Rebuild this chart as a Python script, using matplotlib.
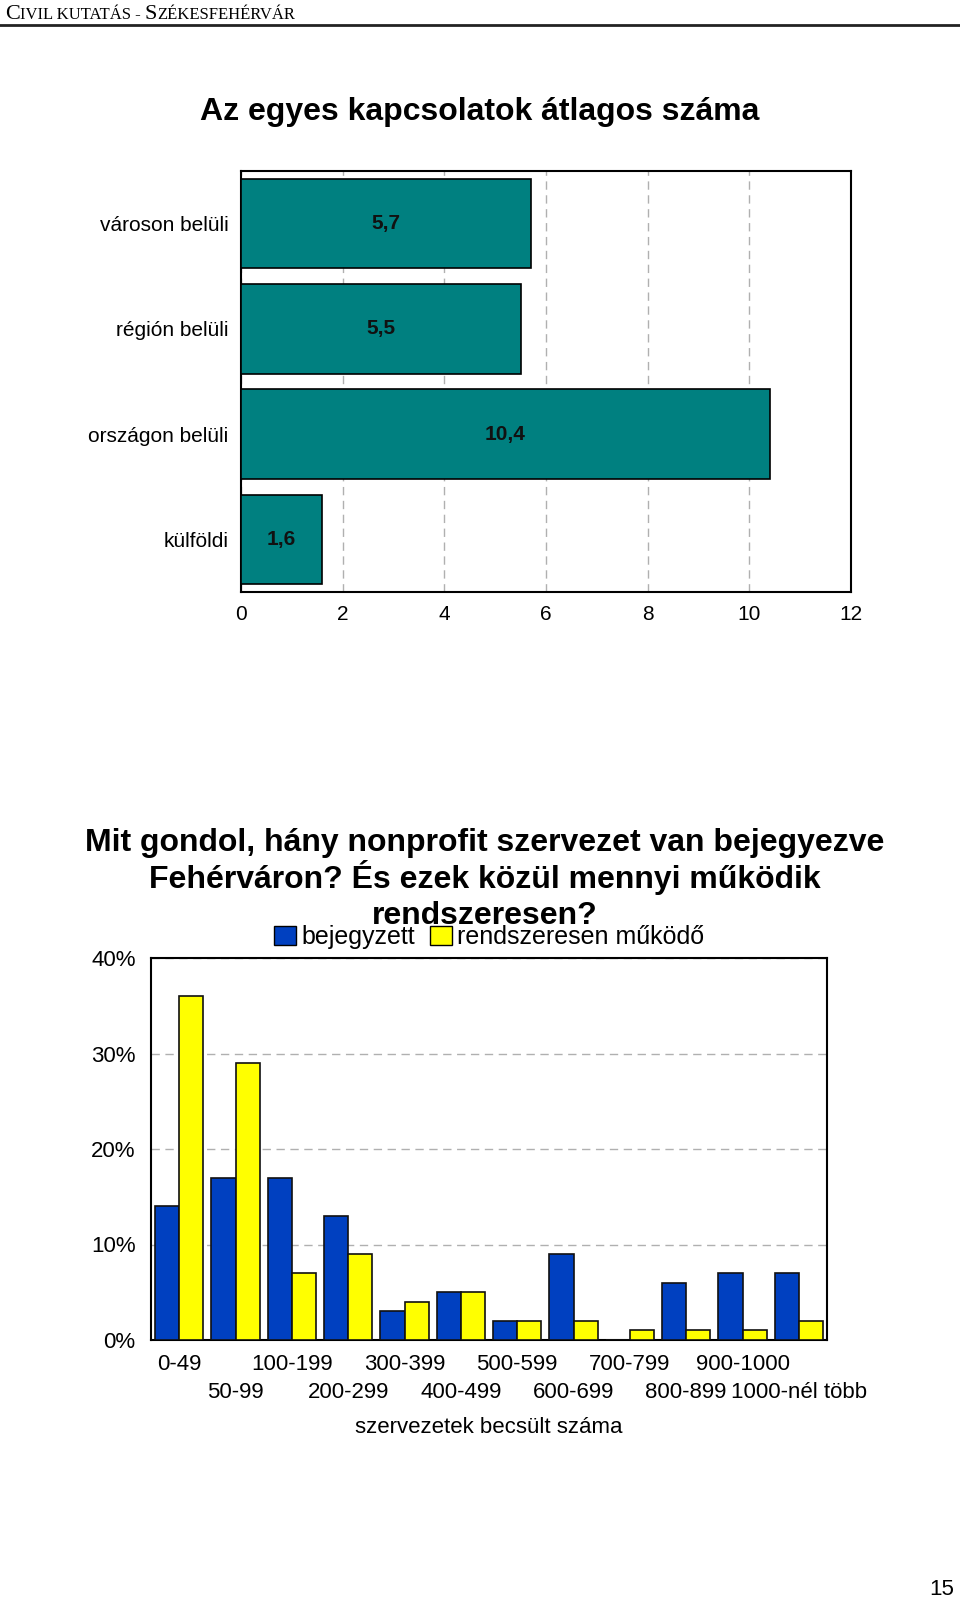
import numpy as np
import matplotlib
matplotlib.use('Agg')
import matplotlib.pyplot as plt
from matplotlib.patches import Patch

plt.rcParams['font.family'] = ['Liberation Sans', 'DejaVu Sans']

# felső diagram adatai
kapcs_cat = ['városon belüli', 'régión belüli', 'országon belüli', 'külföldi']
kapcs_val = [5.7, 5.5, 10.4, 1.6]
kapcs_lbl = ['5,7', '5,5', '10,4', '1,6']

# alsó diagram adatai
szerv_cat = ['0-49', '50-99', '100-199', '200-299', '300-399', '400-499',
             '500-599', '600-699', '700-799', '800-899', '900-1000', '1000-nél több']
bejegyzett = [14, 17, 17, 13, 3, 5, 2, 9, 0, 6, 7, 7]
rendszeres = [36, 29, 7, 9, 4, 5, 2, 2, 1, 1, 1, 2]

W, H = 960, 1601
fig = plt.figure(figsize=(W / 100, H / 100), dpi=100)
renderer = fig.canvas.get_renderer()

# fejléc (kiskapitális imitáció), darabonként egymás után
xpos = 5
for txt, size in [('C', 16), ('IVIL KUTATÁS - ', 12), ('S', 16), ('ZÉKESFEHÉRVÁR', 12)]:
    t = fig.text(xpos / W, 1 - 19 / H, txt, family='Liberation Serif', fontsize=size,
                 va='baseline', ha='left')
    xpos = t.get_window_extent(renderer).x1
fig.add_artist(plt.Line2D([0, 1], [1 - 25 / H, 1 - 25 / H], color='#222222', lw=2))

fig.text(480 / W, 1 - 112 / H, 'Az egyes kapcsolatok átlagos száma',
         fontsize=23, fontweight='bold', ha='center', va='center')

# felső diagram
ax1 = fig.add_axes([241 / W, 1 - 592 / H, 610 / W, 421 / H])
y = np.arange(len(kapcs_cat))
ax1.barh(y, kapcs_val, height=0.85, color='#008080', edgecolor='black', lw=1.2, zorder=3)
for yi, v, t in zip(y, kapcs_val, kapcs_lbl):
    ax1.text(v / 2, yi, t, ha='center', va='center', fontsize=15, fontweight='bold', color='#111111', zorder=4)
ax1.set_xlim(0, 12)
ax1.set_ylim(3.5, -0.5)
ax1.set_xticks(range(0, 13, 2))
ax1.set_yticks(y)
ax1.set_yticklabels(kapcs_cat)
ax1.tick_params(length=0, labelsize=15, pad=9)
ax1.grid(axis='x', color='#b0b0b0', ls=(0, (6, 4)), lw=1, zorder=0)
for s in ax1.spines.values():
    s.set_linewidth(1.5)

# alsó diagram címe, soronként
cim_sorok = ['Mit gondol, hány nonprofit szervezet van bejegyezve',
             'Fehérváron? És ezek közül mennyi működik',
             'rendszeresen?']
for sor, base in zip(cim_sorok, [851, 888, 924]):
    fig.text(485 / W, 1 - base / H, sor, fontsize=23, fontweight='bold', ha='center', va='baseline')

# alsó diagram
ax2 = fig.add_axes([151 / W, 1 - 1340 / H, 676 / W, 382 / H])
x = np.arange(len(szerv_cat))
bw = 0.43
ax2.bar(x - bw / 2, bejegyzett, width=bw, color='#0040C0', edgecolor='#111111', lw=1.2, zorder=3)
ax2.bar(x + bw / 2, rendszeres, width=bw, color='#FFFF00', edgecolor='#111111', lw=1.2, zorder=3)
ax2.set_xlim(-0.5, len(szerv_cat) - 0.5)
ax2.set_ylim(0, 40)
ax2.set_yticks([0, 10, 20, 30, 40])
ax2.set_yticklabels(['0%', '10%', '20%', '30%', '40%'])
# két sorban váltakozó kategórianevek
ax2.set_xticks(x[::2])
ax2.set_xticklabels(szerv_cat[::2])
ax2.set_xticks(x[1::2], minor=True)
ax2.set_xticklabels(szerv_cat[1::2], minor=True)
ax2.tick_params(which='both', length=0, labelsize=16)
ax2.tick_params(axis='y', pad=11)
ax2.tick_params(axis='x', which='major', pad=10)
ax2.tick_params(axis='x', which='minor', pad=30)
ax2.grid(axis='y', color='#b0b0b0', ls=(0, (6, 4)), lw=1, zorder=0)
ax2.set_xlabel('szervezetek becsült száma', fontsize=16, labelpad=10)
for s in ax2.spines.values():
    s.set_linewidth(1.5)

handles = [Patch(facecolor='#0040C0', edgecolor='black', label='bejegyzett'),
           Patch(facecolor='#FFFF00', edgecolor='black', label='rendszeresen működő')]
fig.legend(handles=handles, loc='center', bbox_to_anchor=(489 / W, 1 - 937 / H), ncol=2,
           frameon=False, fontsize=18, handlelength=0.9, handleheight=0.8,
           handletextpad=0.2, columnspacing=0.6, borderpad=0)

fig.text(942 / W, 1 - 1589 / H, '15', fontsize=16, ha='center', va='center')

fig.savefig('out.png', dpi=100)
